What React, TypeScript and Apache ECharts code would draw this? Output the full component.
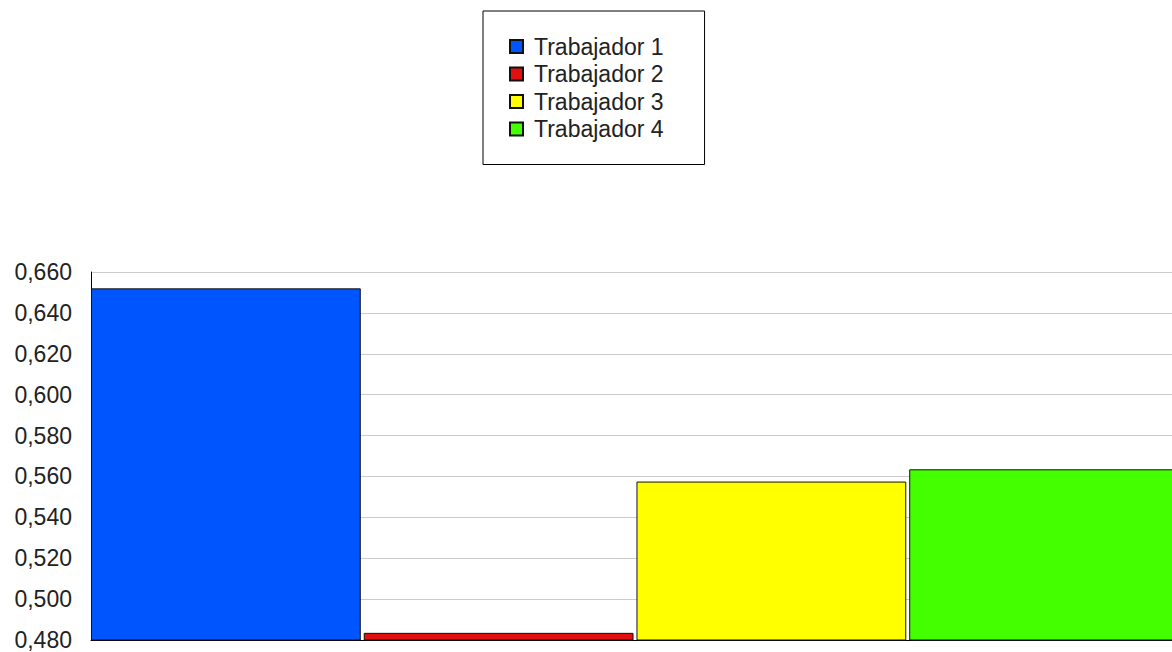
import React, { useEffect, useRef } from "react";
import * as echarts from "echarts";

const seriesNames = ["Trabajador 1", "Trabajador 2", "Trabajador 3", "Trabajador 4"];
const seriesValues = [0.652, 0.4835, 0.5575, 0.5635];
const seriesColors = ["#0055ff", "#e01010", "#ffff00", "#44ff00"];
const categories = [""];

export default function App() {
  const ref = useRef<HTMLDivElement>(null);
  useEffect(() => {
    if (!ref.current) return;
    const chart = echarts.init(ref.current, undefined, { renderer: "svg" });
    chart.setOption({
      animation: false,
      backgroundColor: "#ffffff",
      textStyle: { fontFamily: "Liberation Sans" },
      legend: {
        orient: "vertical",
        left: 483,
        top: 11,
        padding: [24, 41, 24, 26],
        borderColor: "#000",
        borderWidth: 1,
        itemWidth: 13,
        itemHeight: 13,
        itemGap: 4.5,
        icon: "rect",
        textStyle: {
          fontSize: 23,
          lineHeight: 22.5,
          color: "#222",
          fontFamily: "Liberation Sans",
          padding: [0, 0, 0, 6],
        },
        data: seriesNames,
      },
      grid: { left: 91, top: 272, right: 21, bottom: 40 },
      xAxis: {
        type: "category",
        data: categories,
        axisLine: { show: true, lineStyle: { color: "#000" } },
        axisTick: { show: false },
        axisLabel: { show: false },
      },
      yAxis: {
        type: "value",
        min: 0.48,
        max: 0.66,
        interval: 0.02,
        axisLine: { show: true, lineStyle: { color: "#000" } },
        axisTick: { show: false },
        splitLine: { lineStyle: { color: "#cccccc" } },
        axisLabel: {
          fontSize: 23,
          color: "#222",
          margin: 19,
          fontFamily: "Liberation Sans",
          formatter: (v: number) => v.toFixed(3).replace(".", ","),
        },
      },
      series: seriesNames.map((name, i) => ({
        name,
        type: "bar",
        data: [seriesValues[i]],
        barCategoryGap: "0%",
        barGap: "1.1%",
        itemStyle: { color: seriesColors[i], borderColor: "#111", borderWidth: 1 },
      })),
    });
    return () => chart.dispose();
  }, []);
  return (
    <div style={{ position: "fixed", left: 0, top: 0, width: 1172, height: 652, overflow: "hidden", background: "#fff" }}>
      <div ref={ref} style={{ width: 1200, height: 680 }} />
    </div>
  );
}
